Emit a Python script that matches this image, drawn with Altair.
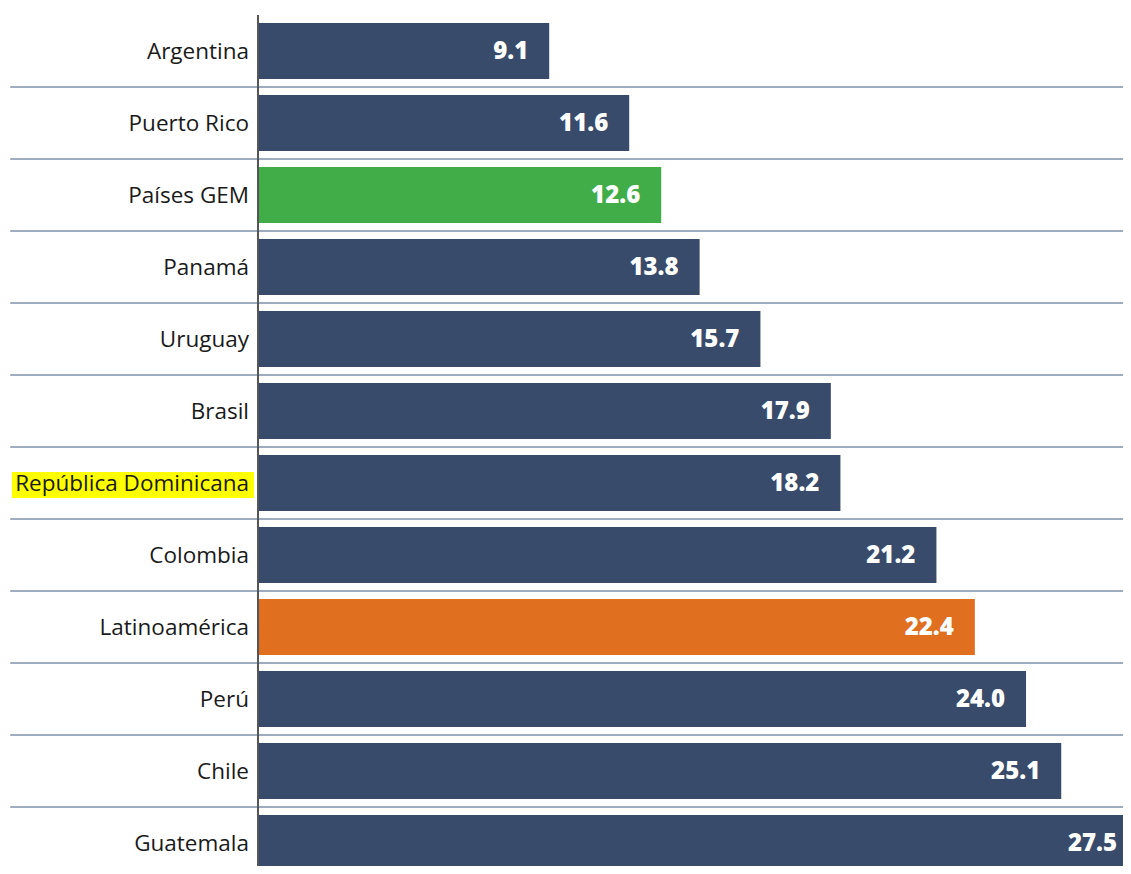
import altair as alt
import pandas as pd

categories = ["Argentina", "Puerto Rico", "Países GEM", "Panamá", "Uruguay", "Brasil",
              "República Dominicana", "Colombia", "Latinoamérica", "Perú", "Chile", "Guatemala"]
values = [9.1, 11.6, 12.6, 13.8, 15.7, 17.9, 18.2, 21.2, 22.4, 24.0, 25.1, 27.5]
bar_colors = ["#394b6a", "#394b6a", "#41ad49", "#394b6a", "#394b6a", "#394b6a",
              "#394b6a", "#394b6a", "#e06f1f", "#394b6a", "#394b6a", "#394b6a"]
highlighted = ["República Dominicana"]

X_MIN = -7.8125
X_MAX = 27.28

df = pd.DataFrame({
    "cat": categories,
    "val": values,
    "color": bar_colors,
    "label": [f"{v:.1f}" for v in values],
    "zero": [0.0] * len(values),
    "xmin": [X_MIN + 0.07] * len(values),
    "xmax": [X_MAX + 0.5] * len(values),
})
grid_df = df.iloc[1:]
hl_df = df[df["cat"].isin(highlighted)].assign(h0=-7.69, h1=-0.125)

yscale = alt.Scale(paddingInner=0, paddingOuter=0, range=[0, 864])
yenc = alt.Y("cat:N", sort=categories, axis=None, scale=yscale)
xscale = alt.Scale(domain=[X_MIN, X_MAX], nice=False, zero=False, range=[0, 1123])

base = alt.Chart(df)

grid = alt.Chart(grid_df).mark_rule(color="#7d92aa", strokeWidth=1.6).encode(
    y=alt.Y("cat:N", sort=categories, axis=None, bandPosition=0, scale=yscale),
    x=alt.X("xmin:Q", scale=xscale, axis=None),
    x2="xmax:Q",
)

bars = base.mark_bar(size=56).encode(
    y=yenc,
    x=alt.X("zero:Q", scale=xscale, axis=None),
    x2="val:Q",
    color=alt.Color("color:N", scale=None),
)

highlight = alt.Chart(hl_df).mark_bar(size=26, color="#ffff00", yOffset=2).encode(
    y=yenc,
    x=alt.X("h0:Q", scale=xscale, axis=None),
    x2="h1:Q",
)

cat_labels = base.mark_text(align="right", baseline="middle", dx=-9, dy=1,
                            font="Open Sans", fontSize=22.5, color="#1a1a1a").encode(
    y=yenc,
    x=alt.X("zero:Q", scale=xscale, axis=None),
    text="cat:N",
)

val_labels = base.mark_text(align="right", baseline="middle", dx=-21, dy=1,
                            font="Open Sans", fontSize=24, fontWeight=800,
                            color="white").encode(
    y=yenc,
    x=alt.X("val:Q", scale=xscale, axis=None),
    text="label:N",
)

axis_line = alt.Chart(pd.DataFrame({"zero": [0.0]})).mark_rule(
    color="#555555", strokeWidth=2).encode(
    x=alt.X("zero:Q", scale=xscale, axis=None),
    y=alt.value(0),
    y2=alt.value(864),
)

chart = alt.layer(grid, highlight, bars, cat_labels, val_labels, axis_line).properties(
    width=1115, height=851,
    padding={"top": 7, "left": 0, "right": 0, "bottom": 0},
    autosize=alt.AutoSizeParams(type="none"),
).configure(background="white").configure_view(stroke=None)

chart.save("out.html", embed_options={"renderer": "svg", "actions": False})
